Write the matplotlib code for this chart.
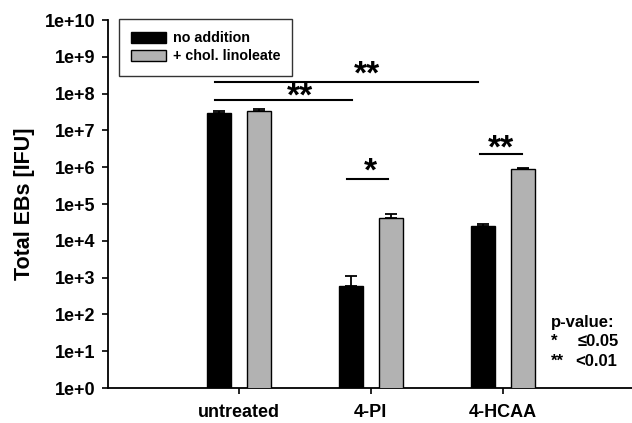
import numpy as np
import matplotlib.pyplot as plt

plt.rcParams['font.family'] = ['Liberation Sans', 'DejaVu Sans']
plt.rcParams['font.weight'] = 'bold'

# data
groups = ['untreated', '4-PI', '4-HCAA']
no_addition = [2.9e7, 5.9e2, 2.55e4]
no_addition_err = [0.5e7, 5.1e2, 0.35e4]
chol_linoleate = [3.4e7, 4.1e4, 8.9e5]
chol_linoleate_err = [0.5e7, 1.2e4, 0.4e5]

x = np.arange(len(groups))
w = 0.185

fig = plt.figure(figsize=(6.32, 4.23), dpi=100)
ax = fig.add_axes([0.171, 0.0827, 0.829, 0.87])

ax.bar(x - 0.15, no_addition, w, color='black', edgecolor='black', lw=1,
       label='no addition', zorder=3)
ax.bar(x + 0.155, chol_linoleate, w, color='#b2b2b2', edgecolor='black', lw=1,
       label='+ chol. linoleate', zorder=3)
ax.errorbar(x - 0.15, no_addition, yerr=[np.zeros(3), no_addition_err],
            fmt='none', ecolor='black', elinewidth=1.3, capsize=4.6, capthick=1.3, zorder=2)
ax.errorbar(x + 0.155, chol_linoleate, yerr=[np.zeros(3), chol_linoleate_err],
            fmt='none', ecolor='black', elinewidth=1.3, capsize=4.6, capthick=1.3, zorder=2)

ax.set_yscale('log')
ax.set_ylim(1, 1e10)
ax.set_xlim(-0.99, 2.98)
yt = [10.0 ** k for k in range(11)]
ax.set_yticks(yt)
ax.set_yticklabels(['1e+%d' % k for k in range(11)], fontsize=13, fontweight='bold')
ax.minorticks_off()
ax.set_xticks(x)
ax.set_xticklabels(groups, fontsize=13, fontweight='bold')
ax.tick_params(axis='y', length=4.3, width=1.2, pad=5)
ax.tick_params(axis='x', length=4.3, width=1.2, pad=7)
ax.set_ylabel('Total EBs [IFU]', fontsize=15.5, fontweight='bold', labelpad=7)

for s in ['top', 'right']:
    ax.spines[s].set_visible(False)
for s in ['left', 'bottom']:
    ax.spines[s].set_linewidth(1.3)


# significance brackets; dy = offset of the star baseline from the line (points)
def sig(x0, x1, y, label, xt, dy):
    ax.plot([x0, x1], [y, y], color='black', lw=1.5, clip_on=False)
    ax.annotate(label, (xt, y), xytext=(0, dy), textcoords='offset points',
                ha='center', va='baseline', fontsize=24, fontweight='bold')


sig(-0.18, 1.81, 2.1e8, '**', 0.973, -1.5)
sig(-0.18, 0.856, 6.7e7, '**', 0.462, -4)
sig(0.818, 1.129, 4.8e5, '*', 1.0, -1.5)
sig(1.826, 2.144, 2.3e6, '**', 1.99, -2.5)

ax.legend(loc='upper left', bbox_to_anchor=(11 / 524, 1.0 + 1 / 368), frameon=True,
          fancybox=False, edgecolor='black', borderaxespad=0,
          prop={'weight': 'bold', 'size': 10.3}, handlelength=2.4,
          handleheight=0.8, handletextpad=0.5, labelspacing=0.3, borderpad=0.85)

ax.text(2.364, 62, 'p-value:', fontsize=12, fontweight='bold', va='center')
ax.text(2.364, 18.9, '*', fontsize=12, fontweight='bold', va='center')
ax.text(2.568, 18.9, '≤0.05', fontsize=12, fontweight='bold', va='center')
ax.text(2.364, 5.4, '**', fontsize=12, fontweight='bold', va='center')
ax.text(2.553, 5.4, '<0.01', fontsize=12, fontweight='bold', va='center')

fig.savefig('out.png', dpi=100)
